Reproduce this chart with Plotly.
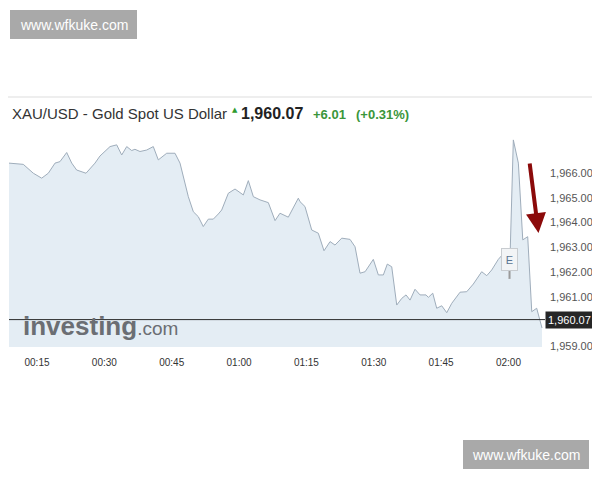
import plotly.graph_objects as go

DAY = "2023-06-01 "
times = ["00:08:46","00:11:57","00:14:11","00:16:03","00:17:31","00:19:01","00:20:07","00:21:37","00:22:44","00:23:50",
         "00:25:55","00:27:55","00:29:02","00:31:16","00:32:45","00:33:52","00:34:59","00:36:05","00:36:49","00:37:56",
         "00:39:26","00:40:54","00:42:01","00:43:53","00:45:44","00:46:51","00:48:42","00:49:49","00:50:55","00:52:02",
         "00:53:09","00:54:16","00:55:23","00:56:08","00:57:37","00:59:06","01:00:57","01:02:04","01:03:11","01:04:40",
         "01:06:31","01:08:01","01:09:07","01:10:58","01:13:12","01:13:34","01:14:41","01:16:11","01:17:39","01:18:55",
         "01:20:16","01:21:22","01:22:52","01:24:43","01:25:50","01:26:56","01:28:04","01:29:54","01:31:01","01:32:08",
         "01:33:01","01:34:00","01:35:07","01:36:14","01:37:11","01:38:05","01:39:11","01:40:18","01:41:38","01:42:09",
         "01:43:08","01:44:01","01:45:08","01:46:15","01:47:22","01:49:13","01:50:42","01:52:10","01:54:02","01:55:10",
         "01:56:16","01:57:44","01:59:14","02:00:21","02:01:05","02:02:12","02:03:11","02:04:17","02:05:11","02:06:17",
         "02:07:28"]
prices = [1966.41,1966.36,1966.00,1965.80,1966.00,1966.41,1966.47,1966.84,1966.41,1966.13,
          1966.00,1966.41,1966.70,1967.08,1967.15,1966.74,1967.08,1966.92,1966.97,1966.88,
          1966.94,1967.08,1966.54,1966.81,1966.81,1966.41,1965.05,1964.44,1964.24,1963.84,
          1964.14,1964.14,1964.35,1964.51,1965.19,1965.36,1965.12,1965.70,1965.05,1964.92,
          1964.81,1964.08,1964.38,1964.22,1964.99,1964.85,1964.65,1963.70,1963.57,1962.86,
          1963.23,1963.09,1963.37,1963.32,1963.02,1961.95,1962.01,1962.51,1961.88,1961.88,
          1962.32,1962.21,1960.66,1960.93,1961.07,1960.86,1961.30,1961.07,1961.07,1960.97,
          1961.14,1960.53,1960.63,1960.35,1960.73,1961.18,1961.20,1961.51,1962.01,1961.85,
          1962.08,1962.51,1962.82,1962.62,1967.35,1966.41,1963.30,1963.43,1960.39,1960.53,
          1959.73]

x_tick_times = ["00:15","00:30","00:45","01:00","01:15","01:30","01:45","02:00"]
y_tick_vals = [1959, 1961, 1962, 1963, 1964, 1965, 1966]
x_range = ["00:08:46", "02:08:08"]
y_range = [1958.96, 1967.63]

current_price = 1960.07
title_name = "XAU/USD - Gold Spot US Dollar"
change_abs = "+6.01"
change_pct = "(+0.31%)"
event_time = "02:00:14"
event_price = 1962.52
event_stick = [1962.08, 1961.72]
watermark = "www.wfkuke.com"

OFF = 8  # page body margin
W, H = 600 - OFF, 480 - OFF
L, R, T, B = 9, 545, 133, 347  # plot area in screen pixels
FONT = "Liberation Sans, Arial"


def px(xs):
    return (xs - L) / (R - L)


def py(ys):
    return (B - ys) / (B - T)


fig = go.Figure()
fig.add_trace(go.Scatter(
    x=[DAY + t for t in times], y=prices, mode="lines",
    line=dict(color="#9fadbb", width=1), fill="tozeroy",
    fillcolor="#e4edf4", hoverinfo="skip", showlegend=False))

shapes = [
    dict(type="line", xref="paper", yref="y", x0=0, x1=1, y0=current_price, y1=current_price,
         line=dict(color="#2b2b2b", width=1)),
    dict(type="line", xref="paper", yref="paper", x0=px(0), x1=px(600), y0=py(97), y1=py(97),
         line=dict(color="#dddddd", width=1)),
    dict(type="line", xref="x", yref="y", x0=DAY + event_time, x1=DAY + event_time,
         y0=event_stick[0], y1=event_stick[1], line=dict(color="#9a9a9a", width=2)),
    dict(type="rect", xref="paper", yref="paper", x0=px(10), x1=px(137), y0=py(10), y1=py(39),
         fillcolor="#a9a9a9", line=dict(width=0), layer="above"),
    dict(type="rect", xref="paper", yref="paper", x0=px(463), x1=px(589), y0=py(440), y1=py(469),
         fillcolor="#a9a9a9", line=dict(width=0), layer="above"),
]

ann = [
    dict(xref="paper", yref="paper", x=px(10), y=py(113), xanchor="left", yanchor="middle",
         text=title_name, showarrow=False, font=dict(size=15, color="#333333", family=FONT)),
    dict(xref="paper", yref="paper", x=px(230), y=py(110), xanchor="left", yanchor="middle",
         text="▲", showarrow=False, font=dict(size=7, color="#2e9a2e", family="DejaVu Sans")),
    dict(xref="paper", yref="paper", x=px(239), y=py(113), xanchor="left", yanchor="middle",
         text="<b>1,960.07</b>", showarrow=False, font=dict(size=16, color="#222222", family=FONT)),
    dict(xref="paper", yref="paper", x=px(311), y=py(114), xanchor="left", yanchor="middle",
         text="<b>" + change_abs + "</b>", showarrow=False, font=dict(size=13, color="#3a963a", family=FONT)),
    dict(xref="paper", yref="paper", x=px(354), y=py(114), xanchor="left", yanchor="middle",
         text="<b>" + change_pct + "</b>", showarrow=False, font=dict(size=13, color="#3a963a", family=FONT)),
    dict(xref="paper", yref="y", x=1, y=current_price, xanchor="left", yanchor="middle",
         text="1,960.07", showarrow=False, bgcolor="#262626", borderpad=2,
         font=dict(size=11, color="#ffffff", family=FONT)),
    dict(xref="x", yref="y", x=DAY + event_time, y=event_price, text="E", showarrow=False,
         bgcolor="#f2f4f6", bordercolor="#c8ccd0", borderwidth=1, width=13, height=19,
         font=dict(size=11, color="#5a7592", family=FONT)),
    dict(xref="paper", yref="paper", x=px(538.5), y=py(233), ax=-9, ay=-71, axref="pixel", ayref="pixel",
         text="", showarrow=True, arrowhead=2, arrowsize=1.0, arrowwidth=4, arrowcolor="#8b0a0a"),
    dict(xref="paper", yref="paper", x=px(21), y=py(343), xanchor="left", yanchor="bottom",
         text="<b>investing</b><span style='font-size:19px'>.com</span>", showarrow=False,
         font=dict(size=26, color="#6b6e73", family=FONT)),
    dict(xref="paper", yref="paper", x=px(73.5), y=py(25), xanchor="center", yanchor="middle",
         text=watermark, showarrow=False, font=dict(size=14, color="#ffffff", family=FONT)),
    dict(xref="paper", yref="paper", x=px(526), y=py(455), xanchor="center", yanchor="middle",
         text=watermark, showarrow=False, font=dict(size=14, color="#ffffff", family=FONT)),
]

fig.update_layout(
    width=W, height=H, margin=dict(l=L - OFF, r=W - (R - OFF), t=T - OFF, b=H - (B - OFF), pad=0),
    paper_bgcolor="#ffffff", plot_bgcolor="#ffffff",
    shapes=shapes, annotations=ann, showlegend=False,
    xaxis=dict(type="date", range=[DAY + x_range[0], DAY + x_range[1]],
               tickvals=[DAY + t for t in x_tick_times], ticktext=x_tick_times,
               showgrid=False, zeroline=False, showline=False, ticks="",
               ticklabelstandoff=8,
               tickfont=dict(size=10, color="#333333", family=FONT)),
    yaxis=dict(range=y_range, side="right", tickvals=y_tick_vals,
               ticktext=[f"{v:,.2f}" for v in y_tick_vals],
               showgrid=False, zeroline=False, showline=False, ticks="",
               ticklabelstandoff=4,
               tickfont=dict(size=11, color="#555555", family=FONT)),
)

fig.write_html("out.html")
